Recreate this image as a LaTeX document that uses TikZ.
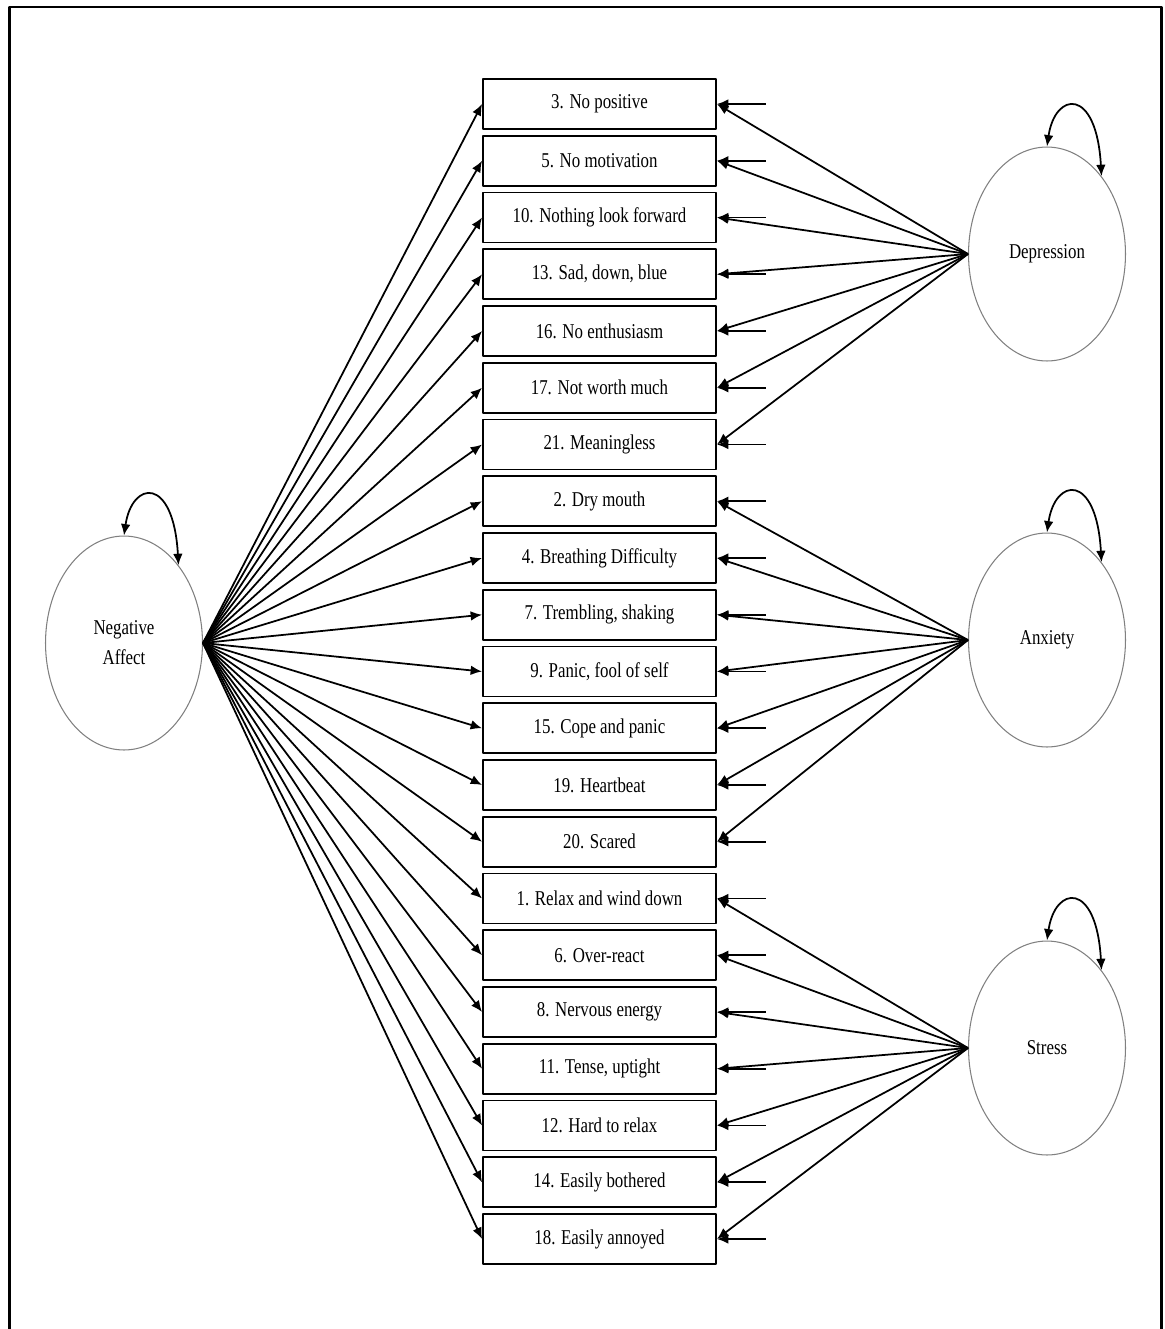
\documentclass[tikz,border=0pt]{standalone}
\usepackage{fontspec}
\newfontfamily\dassfont{Liberation Serif}[FakeStretch = 0.8]
\usetikzlibrary{shapes.geometric}
\usetikzlibrary{arrows.meta}

\tikzset{
  itembox/.style = {draw, line width = 1.1pt, minimum width = 4.66cm,
    minimum height = 1cm, inner sep = 0pt,
    font = \dassfont\fontsize{12}{17}\selectfont},
  latent/.style = {ellipse, draw = gray, line width = 0.6pt,
    minimum width = 3.14cm, minimum height = 4.28cm, inner sep = 0pt,
    align = center, font = \dassfont\fontsize{12}{17}\selectfont},
  tip/.tip = {Latex[length = 6.5pt, width = 5.5pt]},
  loading/.style = {-tip, line width = 1pt},
  residual/.style = {tip-, line width = 1.1pt}
}

\begin{document}
\begin{tikzpicture}[x = 0.02cm, y = -0.02cm, line join = round]
  \useasboundingbox (0, 0) rectangle (1165, 1329);
  \draw[line width = 1.7pt] (9.5, 1329) -- (9.5, 7) -- (1161, 7) -- (1161, 1329);

  \node[latent] (na) at (124, 643) {Negative\\Affect};
  \node[latent] (dep) at (1047, 254) {Depression};
  \node[latent] (anx) at (1047, 640) {Anxiety};
  \node[latent] (str) at (1047, 1048) {Stress};

  \foreach \n in {na, dep, anx, str}
    \draw[tip-tip, line width = 1pt] (\n.north)
      .. controls +(8, -55) and +(-5, -90) .. (\n.55);

  \foreach \txt/\fac [count = \i from 0] in {
    3. No positive/dep, 5. No motivation/dep, 10. Nothing look forward/dep,
    {13. Sad, down, blue}/dep, 16. No enthusiasm/dep, 17. Not worth much/dep,
    21. Meaningless/dep,
    2. Dry mouth/anx, 4. Breathing Difficulty/anx,
    {7. Trembling, shaking}/anx, {9. Panic, fool of self}/anx,
    15. Cope and panic/anx, 19. Heartbeat/anx, 20. Scared/anx,
    1. Relax and wind down/str, 6. Over-react/str, 8. Nervous energy/str,
    {11. Tense, uptight}/str, 12. Hard to relax/str,
    14. Easily bothered/str, 18. Easily annoyed/str} {
    \node[itembox] (b\i) at (599.5, {104 + 56.75*\i}) {\txt};
    \draw[loading] (na.east) -- (b\i.west);
    \draw[loading] (\fac.west) -- (b\i.east);
    \draw[residual] (b\i.east) -- +(49, 0);
  }
\end{tikzpicture}
\end{document}
